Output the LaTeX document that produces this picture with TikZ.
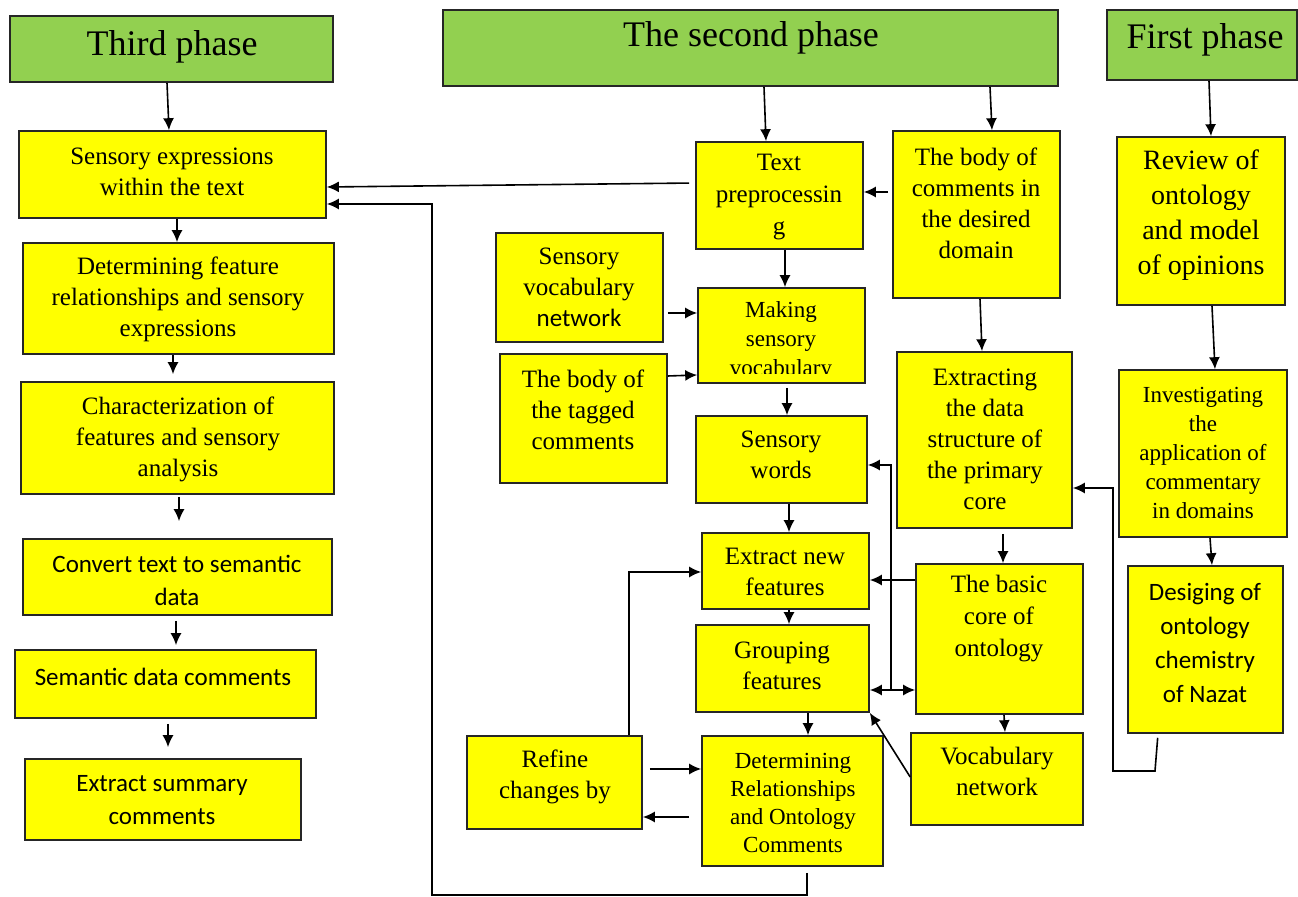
\documentclass[tikz,border=0pt]{standalone}
\usepackage{fontspec}
\setmainfont{Liberation Serif}
\newfontfamily\calsans{Carlito}
\usetikzlibrary{arrows.meta,fit,calc}
\definecolor{phgreen}{HTML}{92D050}
\definecolor{bxyellow}{HTML}{FFFF00}
\tikzset{
 phase/.style={draw=black!85, fill=phgreen, line width=0.8pt, inner sep=0pt, rectangle},
 box/.style={draw=black!85, fill=bxyellow, line width=0.8pt, inner sep=0pt, rectangle},
 txt/.style={align=center, inner sep=0pt, font=\fontsize{12.5}{15.5}\selectfont},
 stxt/.style={align=center, inner sep=0pt, font=\calsans\fontsize{12.5}{16.5}\selectfont},
 ttl/.style={inner sep=0pt, font=\fontsize{18}{21}\selectfont},
 arr/.style={draw=black, line width=0.8pt, -{Latex[length=6pt,width=5.5pt]}},
}
\begin{document}
\begin{tikzpicture}[x=0.5pt,y={(0pt,-0.5pt)}]
\useasboundingbox (0,0) rectangle (1298,897);

% phases
\node[phase, fit={(10,16) (333,82)}] (ph3) {};
\node[ttl] (ph3t) at (172,47) {Third phase};
\node[phase, fit={(443,10) (1058,86)}] (ph2) {};
\node[ttl] (ph2t) at (751,38) {The second phase};
\node[phase, fit={(1107,10) (1297,80)}] (ph1) {};
\node[ttl] (ph1t) at (1205,40) {First phase};

% left column
\node[box, fit={(19,131) (326,218)}] (se) {};
\node[txt] (set) at (172,172) {Sensory expressions\\within the text};
\node[box, fit={(23,243) (334,354)}] (dfr) {};
\node[txt] (dfrt) at (178,299) {Determining feature\\relationships and sensory\\expressions};
\node[box, fit={(21,382) (334,494)}] (cha) {};
\node[txt] (chat) at (178,439) {Characterization of\\features and sensory\\analysis};
\node[box, fit={(23,539) (332,615)}] (cvt) {};
\node[stxt] (cvtt) at (177,580) {Convert text to semantic\\data};
\node[box, fit={(15,650) (316,718)}] (sdc) {};
\node[stxt] (sdct) at (163,677) {Semantic data comments};
\node[box, fit={(25,759) (301,840)}] (esc) {};
\node[stxt] (esct) at (162,800) {Extract summary\\comments};

% middle
\node[box, fit={(696,142) (863,249)}] (tp) {};
\node[txt, font=\fontsize{12.5}{16}\selectfont] (tpt) at (779,197) {Text\\preprocessin\\g};
\node[box, fit={(893,131) (1060,298)}] (bcd) {};
\node[txt] (bcdt) at (976,203) {The body of\\comments in\\the desired\\domain};
\node[box, fit={(496,233) (663,342)}] (svn) {};
\node[txt] (svnt) at (579,287) {Sensory\\vocabulary\\{\calsans network}};
\node[box, fit={(698,288) (865,383)}] (msv) {};
\begin{scope}
\clip (699,289) rectangle (864,374);
\node[txt, font=\fontsize{11.5}{14.5}\selectfont] (msvt) at (781,341) {Making\\sensory\\vocabulary};
\end{scope}
\node[box, fit={(500,354) (667,483)}] (tag) {};
\node[txt] (tagt) at (583,410) {The body of\\the tagged\\comments};
\node[box, fit={(696,416) (867,503)}] (sw) {};
\node[txt] (swt) at (781,455) {Sensory\\words};
\node[box, fit={(897,352) (1072,528)}] (eds) {};
\node[txt] (edst) at (985,439) {Extracting\\the data\\structure of\\the primary\\core};
\node[box, fit={(702,533) (869,609)}] (enf) {};
\node[txt] (enft) at (785,572) {Extract new\\features};
\node[box, fit={(696,625) (869,712)}] (grp) {};
\node[txt] (grpt) at (782,666) {Grouping\\features};
\node[box, fit={(916,564) (1083,714)}] (bco) {};
\node[txt, font=\fontsize{12.5}{16}\selectfont] (bcot) at (999,619) {The basic\\core of\\ontology};
\node[box, fit={(911,733) (1083,825)}] (vnw) {};
\node[txt] (vnwt) at (997,771) {Vocabulary\\network};
\node[box, fit={(467,736) (642,829)}] (ref) {};
\node[txt] (reft) at (555,777) {Refine\\changes by};
\node[box, fit={(702,736) (883,866)}] (drc) {};
\node[txt, font=\fontsize{11.5}{14}\selectfont] (drct) at (793,803) {Determining\\Relationships\\and Ontology\\Comments};

% right
\node[box, fit={(1117,137) (1285,305)}] (rev) {};
\node[txt, font=\fontsize{14}{17.5}\selectfont] (revt) at (1201,215) {Review of\\ontology\\and model\\of opinions};
\node[box, fit={(1119,370) (1287,537)}] (inv) {};
\node[txt, font=\fontsize{11.5}{14.5}\selectfont] (invt) at (1203,453) {Investigating\\the\\application of\\commentary\\in domains};
\node[box, fit={(1128,566) (1283,733)}] (des) {};
\node[stxt, font=\calsans\fontsize{12.5}{17}\selectfont] (dest) at (1205,643) {Desiging of\\ontology\\chemistry\\of Nazat};

% connectors: left column
\draw[arr] (167,0 |- ph3.south) -- (169,0 |- se.north);
\draw[arr] (177,0 |- se.south) -- (177,0 |- dfr.north);
\draw[arr, shorten >=3.5pt] (173,0 |- dfr.south) -- (173,0 |- cha.north);
\draw[arr, shorten <=1pt, shorten >=8.5pt] (179,0 |- cha.south) -- (179,0 |- cvt.north);
\draw[arr, shorten <=2.5pt, shorten >=2pt] (176,0 |- cvt.south) -- (176,0 |- sdc.north);
\draw[arr, shorten <=2.5pt, shorten >=5.5pt] (168,0 |- sdc.south) -- (168,0 |- esc.north);

% phase arrows
\draw[arr] (764,0 |- ph2.south) -- (766,0 |- tp.north);
\draw[arr] (990,0 |- ph2.south) -- (992,0 |- bcd.north);
\draw[arr] (1209,0 |- ph1.south) -- (1211,0 |- rev.north);
\draw[arr] (1212,0 |- rev.south) -- (1215,0 |- inv.north);
\draw[arr] (1210,0 |- inv.south) -- (1212,0 |- des.north);

% middle connectors
\draw[arr, shorten <=3pt] (tp.west |- 0,183) -- (se.east |- 0,187);
\draw[arr, shorten <=3pt] (807,0 |- drc.south) -- (807,895) -- (432,895) -- (432,204) -- (se.east |- 0,204);
\draw[arr, shorten <=2pt] (bcd.west |- 0,192) -- (tp.east |- 0,192);
\draw[arr] (785,0 |- tp.south) -- (785,0 |- msv.north);
\draw[arr, shorten <=2pt] (svn.east |- 0,313) -- (msv.west |- 0,313);
\draw[arr] (tag.east |- 0,376) -- (msv.west |- 0,375);
\draw[arr, shorten <=2pt] (787,0 |- msv.south) -- (787,0 |- sw.north);
\draw[arr] (980,0 |- bcd.south) -- (982,0 |- eds.north);
\draw[arr] (789,0 |- sw.south) -- (789,0 |- enf.north);
\draw[arr] (789,0 |- enf.south) -- (789,0 |- grp.north);
\draw[arr] (808,0 |- grp.south) -- (808,0 |- drc.north);
\draw[arr, shorten <=2.5pt] (1003,0 |- eds.south) -- (1003,0 |- bco.north);
\draw[arr] (1004,0 |- bco.south) -- (1005,0 |- vnw.north);
\draw[arr] (bco.west |- 0,580) -- (enf.east |- 0,580);
\coordinate (jn) at (891,690);
\draw[arr] (jn) -- (891,465) -- (sw.east |- 0,465);
\draw[arr] (jn) -- (grp.east |- jn);
\draw[arr] (jn) -- (bco.west |- jn);
\draw[arr] (vnw.west |- 0,777) -- (grp.south east);
\draw[arr, shorten <=2pt] (1158,0 |- des.south) -- (1155,771) -- (1113,771) -- (1113,488) -- (eds.east |- 0,488);
\draw[arr] (629,0 |- ref.north) -- (629,572) -- (enf.west |- 0,572);
\draw[arr, shorten <=3.5pt] (ref.east |- 0,769) -- (drc.west |- 0,769);
\draw[arr, shorten <=6pt] (drc.west |- 0,817) -- (ref.east |- 0,817);
\end{tikzpicture}
\end{document}
